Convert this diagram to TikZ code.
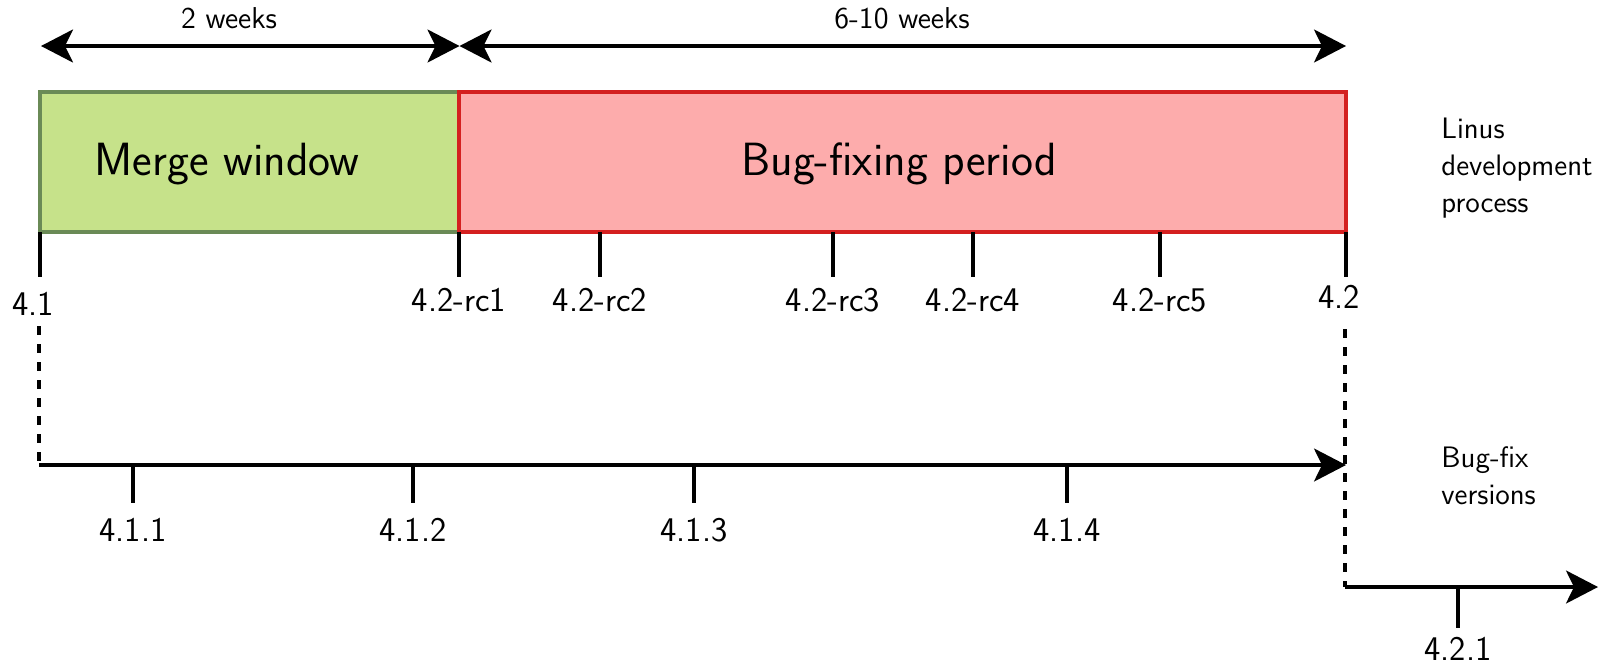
\documentclass[tikz,border=0pt]{standalone}
\usetikzlibrary{arrows.meta}
\definecolor{mgfill}{RGB}{198,226,138}
\definecolor{mgdraw}{RGB}{106,138,86}
\definecolor{bffill}{RGB}{253,172,172}
\definecolor{bfdraw}{RGB}{212,32,32}
\tikzset{
  arrowtip/.style={-{Stealth[length=16pt,width=16.5pt,inset=4pt]}},
  bothtips/.style={{Stealth[length=16pt,width=16.5pt,inset=4pt]}-{Stealth[length=16pt,width=16.5pt,inset=4pt]}},
  axisline/.style={line width=1.6pt},
  vtick/.style={line width=2pt},
  dashline/.style={line width=2pt, dash pattern=on 4.5pt off 4.5pt},
  phase/.style={line width=1.8pt, inner sep=0pt, minimum height=70pt},
  vlabel/.style={inner sep=0pt, font=\sffamily\fontsize{17.3}{20}\selectfont},
  durlabel/.style={inner sep=0pt, font=\sffamily\fontsize{15.1}{18}\selectfont},
  phasetext/.style={inner sep=0pt, font=\sffamily\fontsize{23.3}{27}\selectfont},
  sidetext/.style={inner sep=0pt, anchor=west, align=left, font=\sffamily\fontsize{14.8}{18.5}\selectfont}
}
\begin{document}
\begin{tikzpicture}[x=0.5pt,y=-0.5pt]
\useasboundingbox (0,0) rectangle (1610,671);

% phase boxes
\node[phase, draw=mgdraw, fill=mgfill, minimum width=209.5pt] (merge) at (249.5,162) {};
\node[phase, draw=bfdraw, fill=bffill, minimum width=443.5pt] (bugfix) at (902.5,162) {};
\node[phasetext] (mergetext) at (227,164) {Merge window};
\node[phasetext] (bugfixtext) at (899,164) {Bug-fixing period};

% duration arrows
\coordinate (d0) at (41,46);
\coordinate (d1) at (459.5,46);
\coordinate (d2) at (1346,46);
\draw[axisline, bothtips] (d0) -- (d1);
\draw[axisline, bothtips] (d1) -- (d2);
\node[durlabel] (twoweeks) at (229,18) {2 weeks};
\node[durlabel] (sixten) at (902,18) {6-10 weeks};

% mainline ticks
\foreach \n/\x in {v41/40, rc1/459, rc2/600, rc3/833, rc4/973, rc5/1160, v42/1346} {
  \coordinate (\n top) at (\x,232);
  \coordinate (\n bot) at (\x,277);
  \draw[vtick] (\n top) -- (\n bot);
}
\node[vlabel] (l41) at (33,304) {4.1};
\node[vlabel] (lrc1) at (459,300) {4.2-rc1};
\node[vlabel] (lrc2) at (600,300) {4.2-rc2};
\node[vlabel] (lrc3) at (833,300) {4.2-rc3};
\node[vlabel] (lrc4) at (973,300) {4.2-rc4};
\node[vlabel] (lrc5) at (1160,300) {4.2-rc5};
\node[vlabel] (l42) at (1339,297) {4.2};

\node[sidetext] (linus) at (1441,168) {Linus\\development\\process};

% 4.1 stable branch
\coordinate (s41a) at (39,326);
\coordinate (s41b) at (39,465);
\coordinate (s41end) at (1346,465);
\draw[dashline] (s41a) -- (s41b);
\draw[axisline, arrowtip] (s41b) -- (s41end);
\foreach \n/\x/\t in {a/133/4.1.1, b/413/4.1.2, c/694/4.1.3, d/1067/4.1.4} {
  \coordinate (t\n top) at (\x,465);
  \coordinate (t\n bot) at (\x,503);
  \draw[vtick] (t\n top) -- (t\n bot);
  \node[vlabel] (lab\n) at (\x,530) {\t};
}
\node[sidetext] (bugfixver) at (1441,475.5) {Bug-fix\\versions};

% 4.2 stable branch
\coordinate (s42a) at (1345,329);
\coordinate (s42b) at (1345,587);
\coordinate (s42end) at (1598,587);
\draw[dashline] (s42a) -- (s42b);
\draw[axisline, arrowtip] (s42b) -- (s42end);
\coordinate (t421top) at (1458,587);
\coordinate (t421bot) at (1458,628);
\draw[vtick] (t421top) -- (t421bot);
\node[vlabel] (l421) at (1458,649) {4.2.1};
\end{tikzpicture}
\end{document}
